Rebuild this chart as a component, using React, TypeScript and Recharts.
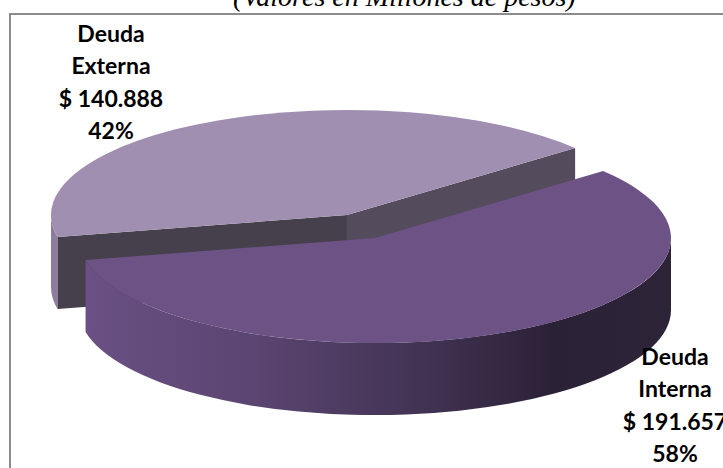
import React from "react";
import { PieChart, Pie } from "recharts";

const names = ["Deuda Externa", "Deuda Interna"];
const values = [140888, 191657];
const valueLabels = ["$ 140.888", "$ 191.657"];

const tableData = names.map((name, i) => ({ name, value: values[i], valueLabel: valueLabels[i] }));

const W = 723;
const H = 468;
const squash = 0.355;
const depth = 72;
// exploded offset of each slice (the Externa one is pulled up and to the left)
const offsets = [{ dx: -28, dy: -23 }, { dx: 0, dy: 0 }];
const labelPos = [{ x: 111, y: 42 }, { x: 675, y: 365 }];

function arcPath(cx: number, cy: number, r: number, a0: number, a1: number, move: boolean) {
  const x0 = cx + r * Math.cos((a0 * Math.PI) / 180);
  const y0 = cy - r * squash * Math.sin((a0 * Math.PI) / 180);
  const x1 = cx + r * Math.cos((a1 * Math.PI) / 180);
  const y1 = cy - r * squash * Math.sin((a1 * Math.PI) / 180);
  const large = Math.abs(a1 - a0) > 180 ? 1 : 0;
  const sweep = a1 < a0 ? 1 : 0;
  return `${move ? "M" : "L"}${x0} ${y0} A${r} ${r * squash} 0 ${large} ${sweep} ${x1} ${y1}`;
}

function Slice3D(props: any) {
  const { cx, cy, outerRadius, startAngle, endAngle, index } = props;
  const o = offsets[index];
  const x = cx + o.dx;
  const y = cy + o.dy;
  const r = outerRadius;
  const px = (a: number) => x + r * Math.cos((a * Math.PI) / 180);
  const py = (a: number) => y - r * squash * Math.sin((a * Math.PI) / 180);

  const top = `M${x} ${y} ${arcPath(x, y, r, startAngle, endAngle, false)} Z`;

  if (index === 0) {
    // Externa: left sliver of the rim plus the two cut faces
    const rimEnd = 180;
    const rim = `${arcPath(x, y, r, startAngle, rimEnd, true)} ${arcPath(x, y + depth, r, rimEnd, startAngle, false)} Z`;
    const leftFace = `M${x} ${y} L${px(startAngle)} ${py(startAngle)} L${px(startAngle)} ${py(startAngle) + depth} L${x} ${y + depth} Z`;
    const rightFace = `M${x} ${y} L${px(endAngle)} ${py(endAngle)} L${px(endAngle)} ${py(endAngle) + depth} L${x} ${y + depth} Z`;
    return (
      <g>
        <path d={rim} fill="#8c7c9e" />
        <path d={rightFace} fill="#544c5c" />
        <path d={leftFace} fill="#45404c" />
        <path d={top} fill="#a18fb1" />
      </g>
    );
  }

  // Interna: the rim facing the viewer, from the right edge round to the cut
  const rim = `${arcPath(x, y, r, 0, endAngle, true)} ${arcPath(x, y + depth, r, endAngle, 0, false)} Z`;
  return (
    <g>
      <path d={rim} fill="url(#rimInterna)" />
      <path d={top} fill="#6c5285" />
    </g>
  );
}

function SliceLabel(props: any) {
  const { index, name, percent, payload } = props;
  const p = labelPos[index];
  const words = name.split(" ");
  const lines = [words[0], words[1], payload.valueLabel, `${Math.round(percent * 100)}%`];
  return (
    <text x={p.x} y={p.y} textAnchor="middle" fontFamily="Lato" fontWeight={700} fontSize={23} fill="#000">
      {lines.map((l, i) => (
        <tspan key={i} x={p.x} dy={i === 0 ? 0 : 32.4}>{l}</tspan>
      ))}
    </text>
  );
}

export default function App() {
  return (
    <div style={{ position: "absolute", left: 0, top: 0, width: W, height: H, overflow: "hidden", background: "#fff" }}>
      <div style={{ position: "absolute", left: 233, top: -17, lineHeight: "28px", whiteSpace: "nowrap", fontFamily: "Liberation Serif", fontStyle: "italic", fontSize: 28, color: "#000" }}>
        (Valores en Millones de pesos)
      </div>
      <div style={{ position: "absolute", left: 9, top: 13, width: 760, height: 500, border: "2px solid #8c8c8c", boxSizing: "border-box" }} />
      <PieChart width={W} height={H} margin={{ top: 0, right: 0, bottom: 0, left: 0 }} style={{ position: "absolute", left: 0, top: 0 }}>
        <defs>
          <linearGradient id="rimInterna" x1="0" y1="0" x2="1" y2="0">
            <stop offset="0" stopColor="#6a5084" />
            <stop offset="0.3" stopColor="#5a4470" />
            <stop offset="0.6" stopColor="#3f3150" />
            <stop offset="0.8" stopColor="#2b2137" />
            <stop offset="1" stopColor="#2d2438" />
          </linearGradient>
        </defs>
        <Pie
          data={tableData}
          dataKey="value"
          nameKey="name"
          cx={375}
          cy={238}
          innerRadius={0}
          outerRadius={296}
          startAngle={192.1}
          endAngle={-167.9}
          stroke="none"
          shape={Slice3D}
          label={SliceLabel}
          labelLine={false}
          isAnimationActive={false}
        />
      </PieChart>
    </div>
  );
}
